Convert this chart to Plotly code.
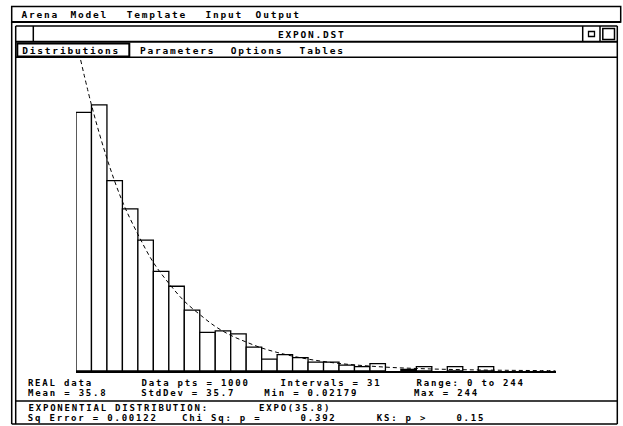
import plotly.graph_objects as go

# ---------------- data ----------------
range_min = 0
range_max = 244
n_intervals = 31
# observed counts per interval (1000 data points)
bar_counts = [174, 179, 128, 109, 88, 67, 57, 41, 26, 27, 25, 16, 8, 11, 9, 6,
              6, 4, 3, 5, 0, 1, 3, 0, 3, 0, 3, 0, 0, 0, 0]
# fitted EXPO(35.8) curve, read at the interval edges (same units as counts)
fit_curve = [223, 179, 143, 114, 92, 73, 59, 47, 38, 30, 24, 19.5, 15.5, 12.5,
             10, 8, 6.4, 5.1, 4.1, 3.3, 2.6, 2.1, 1.7, 1.35, 1.1, 0.87, 0.7,
             0.56, 0.45, 0.36, 0.29, 0.23]
menu_items = ["Arena", "Model", "Template", "Input", "Output"]
tab_items = ["Distributions", "Parameters", "Options", "Tables"]
window_title = "EXPON.DST"
stats_lines = [
    ["REAL data", "Data pts = 1000", "Intervals = 31", "Range: 0 to 244"],
    ["Mean = 35.8", "StdDev = 35.7", "Min = 0.02179", "Max = 244"],
]
fit_lines = [
    ["EXPONENTIAL DISTRIBUTION:", "EXPO(35.8)"],
    ["Sq Error = 0.00122", "Chi Sq: p =", "0.392", "KS: p >", "0.15"],
]

# ---------------- layout helpers ----------------
W, H = 623, 426
LS = 1.8  # letter spacing (px) applied to all annotation texts


def px(x):
    return x / W


def py(y):
    return 1 - y / H


FONT = "DejaVu Sans Mono"
FS = 9.5

bin_w = (range_max - range_min) / n_intervals
edges = [range_min + i * bin_w for i in range(n_intervals + 1)]
centers = [(edges[i] + edges[i + 1]) / 2 for i in range(n_intervals)]

fig = go.Figure()
fig.add_trace(go.Bar(
    x=centers,
    y=[c if c > 0 else None for c in bar_counts],
    width=bin_w,
    marker=dict(color="white", line=dict(color="black", width=1.3)),
    hoverinfo="skip",
))
fig.add_trace(go.Scatter(
    x=edges, y=fit_curve, mode="lines",
    line=dict(color="black", width=1, dash="4px,3px", shape="spline"),
    hoverinfo="skip",
))

shapes = []


def hline(y, x0, x1, w=1.5):
    shapes.append(dict(type="line", xref="paper", yref="paper",
                       x0=px(x0), x1=px(x1), y0=py(y), y1=py(y),
                       line=dict(color="black", width=w)))


def vline(x, y0, y1, w=1.5):
    shapes.append(dict(type="line", xref="paper", yref="paper",
                       x0=px(x), x1=px(x), y0=py(y0), y1=py(y1),
                       line=dict(color="black", width=w)))


def rect(x0, y0, x1, y1, w=1.5):
    shapes.append(dict(type="rect", xref="paper", yref="paper",
                       x0=px(x0), x1=px(x1), y0=py(y0), y1=py(y1),
                       line=dict(color="black", width=w)))


# menu bar
rect(11.7, 6.5, 620.7, 22, 1.5)
hline(22, 11.7, 620.7, 2)
# outer / inner window frame
vline(11.7, 22, 424, 1.5)
vline(15.7, 26, 424, 1.5)
vline(617.3, 26, 424, 1.5)
hline(26, 15.7, 617.3, 1.5)
hline(41.7, 15.7, 617.3, 2)
hline(424, 11.7, 617.3, 1.5)
# title bar boxes
vline(33.3, 26, 41.7, 1.5)
vline(582.7, 26, 41.7, 1.5)
vline(600, 26, 41.7, 1.5)
rect(588.5, 31.5, 594.5, 36.5, 1.3)
rect(602.8, 28.5, 614.5, 39.5, 1.5)
# tabs row
hline(57.3, 15.7, 617.3, 1.5)
rect(17.3, 43.5, 129.3, 56.5, 2)
# stats divider
hline(401, 15.7, 617.3, 1.5)

annotations = []


def text(x, y, s, size=FS):
    # plotly centres the text in its box; letter spacing grows it on both
    # sides, so shift by half of the added width to keep the left edge at x
    annotations.append(dict(
        xref="paper", yref="paper", x=px(x + len(s) * LS / 2), y=py(y),
        text="<b>" + s + "</b>", showarrow=False,
        xanchor="left", yanchor="middle", borderpad=0,
        font=dict(family=FONT, size=size, color="black")))


menu_x = [20, 69, 126, 204, 255]
for s, x in zip(menu_items, menu_x):
    text(x, 14, s)

text(277, 34, window_title)

tab_x = [21, 139, 230, 299]
for s, x in zip(tab_items, tab_x):
    text(x, 50, s)

stats_x = [[27, 140, 279, 415], [27, 140, 263, 413]]
stats_y = [383, 393]
for row, xs, y in zip(stats_lines, stats_x, stats_y):
    for s, x in zip(row, xs):
        text(x, y, s, 9)

fit_x = [[27, 258], [27, 181, 299, 376, 455]]
fit_y = [408, 418]
for row, xs, y in zip(fit_lines, fit_x, fit_y):
    for s, x in zip(row, xs):
        text(x, y, s, 9)

fig.update_layout(
    width=W, height=H,
    margin=dict(l=0, r=0, t=0, b=0, pad=0),
    paper_bgcolor="white", plot_bgcolor="white",
    showlegend=False,
    shapes=shapes, annotations=annotations,
    xaxis=dict(domain=[px(76), px(555.6)], range=[range_min, range_max],
               showgrid=False, zeroline=False, showticklabels=False,
               ticks="", showline=True, linecolor="black", linewidth=2),
    yaxis=dict(domain=[py(371), py(57.3)], range=[0, 211],
               showgrid=False, zeroline=False, showticklabels=False,
               ticks="", showline=False),
)

post = """
document.body.style.margin = '0px';
document.body.style.padding = '0px';
var gd = document.getElementById('{plot_id}');
function spaceText() {
  document.querySelectorAll('.annotation-text').forEach(function (t) {
    t.style.letterSpacing = '%spx';
  });
}
spaceText();
if (gd && gd.on) { gd.on('plotly_afterplot', spaceText); }
""" % LS

fig.write_html("out.html", post_script=post,
               config={"displayModeBar": False, "staticPlot": True})
